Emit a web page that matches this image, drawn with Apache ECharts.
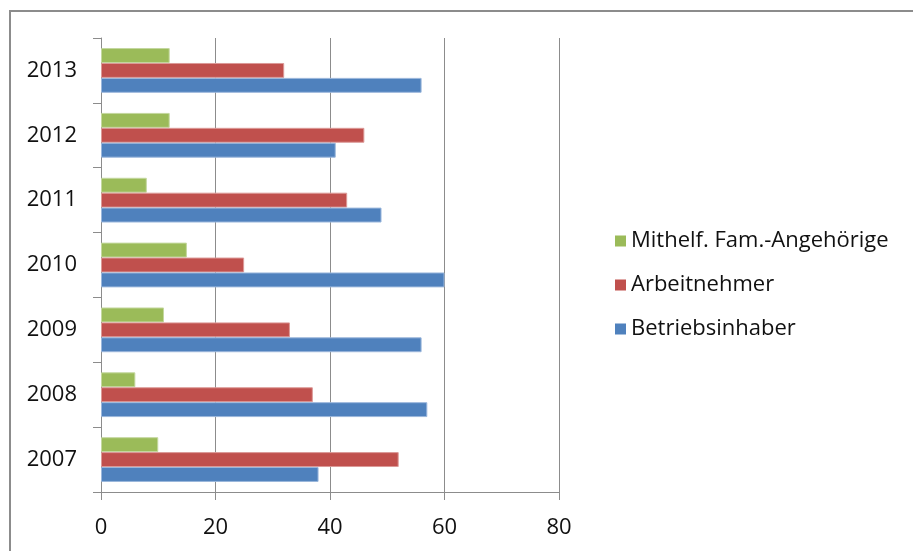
<!DOCTYPE html>
<html>
<head>
<meta charset="utf-8">
<script src="https://cdn.jsdelivr.net/npm/echarts@6/dist/echarts.min.js"></script>
<style>
  html, body { margin: 0; padding: 0; background: #fff; }
  #chart { width: 913px; height: 551px; }
</style>
</head>
<body>
<div id="chart"></div>
<script>
// Years on the category axis (bottom to top)
const years = ['2007', '2008', '2009', '2010', '2011', '2012', '2013'];

// Values per group, one entry per year
const betriebsinhaber = [38, 57, 56, 60, 49, 41, 56];
const arbeitnehmer    = [52, 37, 33, 25, 43, 46, 32];
const mithelfend      = [10, 6, 11, 15, 8, 12, 12];

// Value axis ticks
const xMin = 0, xMax = 80, xStep = 20;

// Top-to-bottom order inside each year band
const seriesNames = ['Mithelf. Fam.-Angehörige', 'Arbeitnehmer', 'Betriebsinhaber'];
const seriesColors = ['#9BBB59', '#C0504D', '#4F81BD'];
const seriesBorders = ['#c4d89f', '#dc9a98', '#9bb7dc'];
const seriesData = [mithelfend, arbeitnehmer, betriebsinhaber];

const font = 'Open Sans';
const chart = echarts.init(document.getElementById('chart'));

chart.setOption({
  animation: false,
  textStyle: { fontFamily: font },
  graphic: [{
    type: 'rect',
    shape: { x: 10, y: 11, width: 1000, height: 1000 },
    style: { fill: 'none', stroke: '#8c8c8c', lineWidth: 2 },
    silent: true
  }],
  grid: { left: 101, right: 354, top: 38, bottom: 59 },
  legend: {
    orient: 'vertical',
    left: 610,
    top: 225,
    itemWidth: 11,
    itemHeight: 11,
    itemGap: 22,
    icon: 'rect',
    itemStyle: { borderWidth: 0 },
    data: seriesNames,
    textStyle: { fontFamily: font, fontSize: 22, color: '#111', padding: [0, 0, 0, 0], lineHeight: 22 }
  },
  xAxis: {
    type: 'value',
    min: xMin, max: xMax, interval: xStep,
    axisLine: { show: true, lineStyle: { color: '#8c8c8c', width: 1 } },
    axisTick: { show: true, length: 8, lineStyle: { color: '#8c8c8c' } },
    splitLine: { show: true, lineStyle: { color: '#8c8c8c', width: 1 } },
    axisLabel: { fontFamily: font, fontSize: 22, color: '#111', margin: 25 }
  },
  yAxis: {
    type: 'category',
    data: years,
    axisLine: { show: true, lineStyle: { color: '#8c8c8c', width: 1 } },
    axisTick: { show: true, length: 8, lineStyle: { color: '#8c8c8c' } },
    axisLabel: { fontFamily: font, fontSize: 22, color: '#111', margin: 24 }
  },
  series: seriesNames.map((name, i) => ({
    name: name,
    type: 'bar',
    data: seriesData[i],
    barGap: '0%',
    barCategoryGap: '31%',
    itemStyle: { color: seriesColors[i], borderColor: seriesBorders[i], borderWidth: 1 }
  }))
});
</script>
</body>
</html>
